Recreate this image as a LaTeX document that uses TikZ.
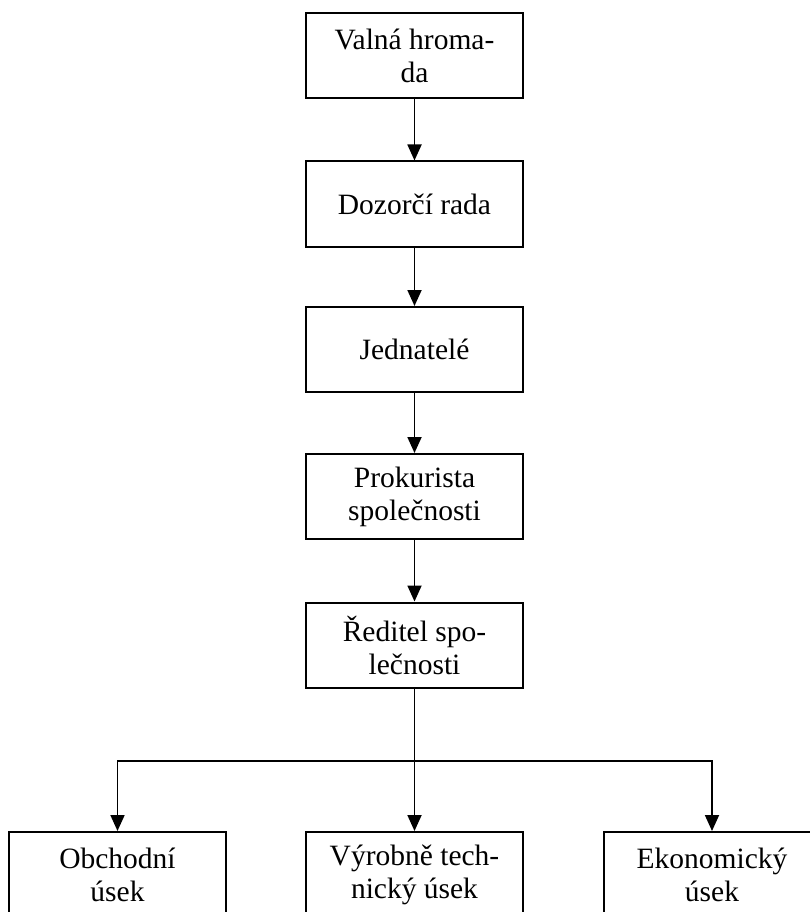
\documentclass[tikz,border=0pt]{standalone}
\usepackage{fontspec}
\setmainfont{Liberation Serif}
\usetikzlibrary{arrows.meta}
\begin{document}
\begin{tikzpicture}[x=1pt,y=-1pt,
  orgbox/.style={draw, line width=2pt, minimum width=217pt, minimum height=85pt,
    inner sep=0pt, align=center, font=\fontsize{29.5}{33}\selectfont},
  conn/.style={line width=1.8pt, -{Triangle[length=16pt,width=14pt]}}]
\useasboundingbox (0,0) rectangle (810,912);
\clip (0,0) rectangle (810,912);
\fill[white] (0,0) rectangle (810,912);
\node[orgbox] (b1) at (414.5,55.5) {Valná hroma-\\da};
\node[orgbox] (b2) at (414.5,204) {Dozorčí rada};
\node[orgbox] (b3) at (414.5,349.5) {Jednatelé};
\node[orgbox] (b4) at (414.5,496.5) {Prokurista\\společnosti};
\node[orgbox] (b5) at (414.5,645) {Ředitel spo-\\lečnosti};
\node[orgbox] (o) at (117.5,874.5) {Obchodní\\úsek};
\node[orgbox] (v) at (414.5,874.5) {Výrobně tech-\\nický úsek};
\node[orgbox] (e) at (712,874.5) {Ekonomický\\úsek};
\coordinate (bar) at (414.5,761);
\draw[conn] (b1) -- (b2);
\draw[conn] (b2) -- (b3);
\draw[conn] (b3) -- (b4);
\draw[conn] (b4) -- (b5);
\draw[conn] (b5) -- (v);
\draw[conn] (bar) -| (o.north);
\draw[conn] (bar) -| (e.north);
\end{tikzpicture}
\end{document}
